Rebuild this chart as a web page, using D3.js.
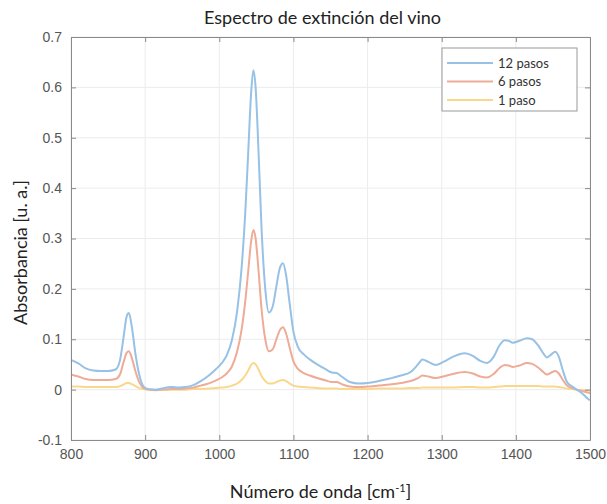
<!DOCTYPE html>
<html>
<head>
<meta charset="utf-8">
<script src="https://cdn.jsdelivr.net/npm/d3@7"></script>
<style>
  body { margin: 0; background: #fff; }
  svg { display: block; }
</style>
</head>
<body>
<div id="vis"></div>
<script>
// wavenumber grid (cm-1)
const wavenumber = [800,810,820,830,840,850,860,866,871,875,878,882,887,892,898,905,915,925,935,945,955,965,975,985,995,1003,1010,1017,1024,1030,1035,1039,1043,1046,1049,1053,1057,1062,1067,1072,1077,1082,1086,1090,1095,1100,1106,1114,1122,1132,1144,1152,1158,1165,1176,1188,1200,1215,1230,1245,1258,1268,1274,1282,1292,1302,1315,1331,1342,1352,1361,1370,1378,1385,1390,1396,1405,1415,1422,1430,1437,1442,1448,1453,1458,1463,1469,1476,1482,1490,1497,1500];

const pasos12 = [0.059,0.052,0.042,0.038,0.037,0.037,0.040,0.058,0.105,0.145,0.152,0.125,0.070,0.030,0.006,0.001,0.000,0.003,0.005,0.004,0.005,0.009,0.017,0.027,0.040,0.052,0.068,0.098,0.155,0.240,0.350,0.470,0.590,0.634,0.600,0.470,0.320,0.200,0.153,0.165,0.205,0.243,0.251,0.228,0.170,0.115,0.085,0.070,0.060,0.050,0.040,0.034,0.033,0.026,0.015,0.012,0.013,0.017,0.022,0.028,0.035,0.050,0.060,0.055,0.049,0.055,0.065,0.072,0.067,0.057,0.053,0.065,0.088,0.098,0.097,0.093,0.097,0.102,0.100,0.088,0.072,0.064,0.070,0.075,0.065,0.040,0.015,0.006,0.000,-0.008,-0.018,-0.021];

const pasos6 = [0.030,0.026,0.021,0.019,0.019,0.019,0.021,0.030,0.055,0.073,0.076,0.063,0.036,0.015,0.003,0.000,-0.001,0.000,0.001,0.001,0.002,0.004,0.008,0.012,0.018,0.024,0.032,0.046,0.075,0.118,0.175,0.235,0.295,0.317,0.300,0.235,0.160,0.100,0.076,0.080,0.100,0.119,0.124,0.112,0.083,0.056,0.041,0.033,0.028,0.023,0.018,0.015,0.015,0.011,0.006,0.005,0.006,0.008,0.010,0.013,0.017,0.023,0.028,0.026,0.023,0.026,0.031,0.035,0.032,0.026,0.024,0.031,0.043,0.049,0.048,0.045,0.048,0.053,0.051,0.044,0.035,0.030,0.034,0.037,0.032,0.020,0.008,0.003,0.000,-0.003,-0.006,-0.007];

const pasos1 = [0.006,0.006,0.005,0.005,0.005,0.005,0.005,0.007,0.010,0.013,0.013,0.011,0.007,0.003,0.001,0.000,0.000,0.000,0.000,0.000,0.000,0.001,0.001,0.002,0.003,0.004,0.005,0.008,0.012,0.019,0.028,0.038,0.049,0.053,0.050,0.040,0.027,0.017,0.012,0.012,0.015,0.018,0.019,0.017,0.012,0.008,0.006,0.005,0.004,0.003,0.002,0.002,0.002,0.001,0.001,0.001,0.001,0.002,0.002,0.002,0.003,0.003,0.004,0.004,0.004,0.004,0.004,0.005,0.005,0.004,0.004,0.005,0.006,0.007,0.007,0.007,0.007,0.007,0.007,0.007,0.006,0.006,0.006,0.006,0.005,0.004,0.002,0.001,0.000,-0.001,-0.002,-0.003];

const seriesNames = ["12 pasos", "6 pasos", "1 paso"];
const seriesColors = ["#97c1e5", "#eeab96", "#f9d88e"];
const xTicks = [800, 900, 1000, 1100, 1200, 1300, 1400, 1500];
const yTicks = [-0.1, 0, 0.1, 0.2, 0.3, 0.4, 0.5, 0.6, 0.7];
const yTickLabels = ["-0.1", "0", "0.1", "0.2", "0.3", "0.4", "0.5", "0.6", "0.7"];

const width = 607, height = 504;
const margin = {left: 71, right: 17, top: 37, bottom: 64};

const svg = d3.select("#vis").append("svg")
    .attr("width", width)
    .attr("height", height);

const x = d3.scaleLinear().domain([800, 1500]).range([margin.left, width - margin.right]);
const y = d3.scaleLinear().domain([-0.1, 0.7]).range([height - margin.bottom, margin.top]);

// grid
const grid = svg.append("g").attr("id", "grid");
grid.selectAll("line.gx").data(xTicks).join("line")
    .attr("x1", d => x(d)).attr("x2", d => x(d))
    .attr("y1", y(-0.1)).attr("y2", y(0.7))
    .attr("stroke", "#ececec").attr("stroke-width", 1);
grid.selectAll("line.gy").data(yTicks).join("line")
    .attr("y1", d => y(d)).attr("y2", d => y(d))
    .attr("x1", x(800)).attr("x2", x(1500))
    .attr("stroke", "#ececec").attr("stroke-width", 1);

// lines
const series = [pasos12, pasos6, pasos1];
const line = d3.line()
    .x((d, i) => x(wavenumber[i]))
    .y(d => y(d))
    .curve(d3.curveMonotoneX);

svg.append("g").attr("id", "lines")
    .selectAll("path")
    .data(series.slice().reverse())
    .join("path")
    .attr("fill", "none")
    .attr("stroke", (d, i) => seriesColors[2 - i])
    .attr("stroke-width", 2)
    .attr("d", line);

// axes, MATLAB style box with inward ticks
const axes = svg.append("g").attr("id", "axes");

const xAxis = d3.axisBottom(x).tickValues(xTicks).tickSizeInner(-5).tickSizeOuter(0).tickPadding(9).tickFormat(d3.format("d"));
const yAxis = d3.axisLeft(y).tickValues(yTicks).tickSizeInner(-5).tickSizeOuter(0).tickPadding(9).tickFormat((d, i) => yTickLabels[i]);
const xAxisTop = d3.axisTop(x).tickValues(xTicks).tickSizeInner(-5).tickSizeOuter(0).tickFormat("");
const yAxisRight = d3.axisRight(y).tickValues(yTicks).tickSizeInner(-5).tickSizeOuter(0).tickFormat("");

axes.append("g").attr("transform", "translate(0," + y(-0.1) + ")").call(xAxis);
axes.append("g").attr("transform", "translate(" + x(800) + ",0)").call(yAxis);
axes.append("g").attr("transform", "translate(0," + y(0.7) + ")").call(xAxisTop);
axes.append("g").attr("transform", "translate(" + x(1500) + ",0)").call(yAxisRight);

axes.selectAll(".domain").attr("stroke", "#8a8a8a");
axes.selectAll(".tick line").attr("stroke", "#8a8a8a");
axes.selectAll(".tick text")
    .attr("fill", "#555")
    .style("font-family", "'Liberation Sans', Arial, sans-serif")
    .style("font-size", "14px");

// titles
const titleFont = "Lato, 'Noto Sans', sans-serif";
svg.append("text")
    .attr("x", (x(800) + x(1500)) / 2 - 8).attr("y", 24)
    .attr("text-anchor", "middle")
    .style("font-family", titleFont).style("font-size", "18px").attr("fill", "#222")
    .text("Espectro de extinción del vino");

const xl = svg.append("text")
    .attr("x", (x(800) + x(1500)) / 2 - 10).attr("y", 498)
    .attr("text-anchor", "middle")
    .style("font-family", titleFont).style("font-size", "18px").attr("fill", "#222");
xl.append("tspan").text("Número de onda [cm");
xl.append("tspan").attr("dy", -6).style("font-size", "11px").text("-1");
xl.append("tspan").attr("dy", 6).text("]");

svg.append("text")
    .attr("transform", "translate(27," + ((y(-0.1) + y(0.7)) / 2 + 14) + ") rotate(-90)")
    .attr("text-anchor", "middle")
    .style("font-family", titleFont).style("font-size", "18px").attr("fill", "#222")
    .text("Absorbancia [u. a.]");

// legend
const legend = svg.append("g").attr("id", "legend")
    .attr("transform", "translate(442,48)");
legend.append("rect")
    .attr("width", 135).attr("height", 63)
    .attr("fill", "#fff").attr("stroke", "#999").attr("stroke-width", 1);
const items = legend.selectAll("g.item").data(seriesNames).join("g")
    .attr("transform", (d, i) => "translate(0," + (15 + i * 18.5) + ")");
items.append("line")
    .attr("x1", 5).attr("x2", 51)
    .attr("stroke", (d, i) => seriesColors[i]).attr("stroke-width", 2);
items.append("text")
    .attr("x", 56).attr("dy", "0.35em")
    .style("font-family", titleFont).style("font-size", "13px").attr("fill", "#333")
    .text(d => d);
</script>
</body>
</html>
